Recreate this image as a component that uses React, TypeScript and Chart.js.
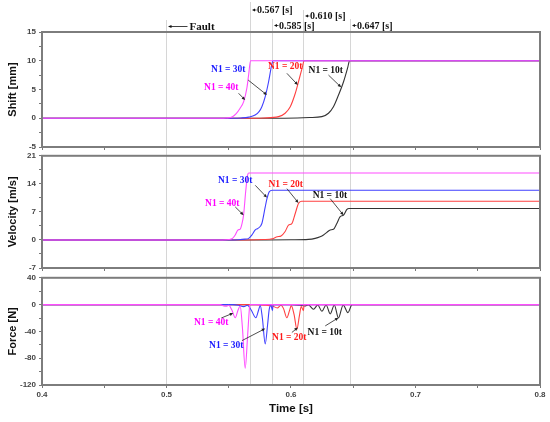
import { useEffect, useRef } from "react";
import { Chart, registerables } from "chart.js";

Chart.register(...registerables);

type Pt = [number, number];

// time window and the marked instants [s]
const tMin = 0.4;
const tMax = 0.8;
const eventTimes = [0.5, 0.567, 0.585, 0.61, 0.647];

const seriesNames = ["N1 = 40t", "N1 = 30t", "N1 = 20t", "N1 = 10t"];
const seriesColors = ["#ff4dff", "#4040ff", "#ff4040", "#333333"];
const labelColors = ["#ff00ff", "#1a1aff", "#ff1a1a", "#111111"];

// Shift [mm]
const shift40: Pt[] = [[0.4, 0], [0.542, 0], [0.548, 0.05], [0.553, 0.25], [0.556, 0.8], [0.559, 1.7], [0.562, 2.9], [0.5646, 5.3], [0.566, 7.6], [0.5675, 10], [0.8, 10]];
const shift30: Pt[] = [[0.4, 0], [0.552, 0], [0.56, 0.05], [0.566, 0.2], [0.5712, 0.57], [0.5745, 1.2], [0.5766, 2.0], [0.5793, 3.75], [0.582, 6.35], [0.5847, 9.5], [0.5855, 10], [0.8, 10]];
const shift20: Pt[] = [[0.4, 0], [0.565, 0], [0.578, 0.05], [0.59, 0.28], [0.5953, 0.87], [0.5994, 2.0], [0.6034, 4.3], [0.606, 6.35], [0.6092, 8.95], [0.6105, 10], [0.8, 10]];
const shift10: Pt[] = [[0.4, 0], [0.585, 0], [0.605, 0.05], [0.615, 0.12], [0.6248, 0.28], [0.6301, 0.87], [0.6341, 2.0], [0.6381, 4.0], [0.6422, 6.35], [0.6457, 8.95], [0.647, 10], [0.8, 10]];

// Velocity [m/s]
const vel40: Pt[] = [[0.4, 0], [0.545, 0], [0.55, 0.1], [0.553, 0.4], [0.5552, 1.24], [0.5574, 2.5], [0.5592, 2.7], [0.5606, 4.0], [0.5619, 6.2], [0.5637, 12.4], [0.5651, 16.1], [0.566, 16.7], [0.8, 16.7]];
const vel30: Pt[] = [[0.4, 0], [0.55, 0], [0.558, 0.05], [0.563, 0.2], [0.566, 0.4], [0.5685, 1.2], [0.5713, 2.5], [0.5735, 2.9], [0.5766, 4.1], [0.5793, 8.25], [0.5807, 10.3], [0.5825, 12.0], [0.585, 12.4], [0.8, 12.4]];
const vel20: Pt[] = [[0.4, 0], [0.565, 0], [0.578, 0.1], [0.585, 0.3], [0.589, 0.8], [0.592, 1.0], [0.5953, 2.1], [0.598, 3.7], [0.6007, 4.1], [0.6034, 6.6], [0.606, 9.1], [0.6085, 9.66], [0.8, 9.66]];
const vel10: Pt[] = [[0.4, 0], [0.58, 0], [0.6, 0.05], [0.614, 0.15], [0.6194, 0.4], [0.6234, 0.8], [0.6261, 1.24], [0.6288, 1.9], [0.6315, 2.5], [0.6341, 2.65], [0.6368, 4.1], [0.6395, 5.8], [0.6422, 6.2], [0.6449, 7.6], [0.6465, 7.85], [0.8, 7.85]];

// Force [N]
const force40: Pt[] = [[0.4, 0], [0.543, 0], [0.546, -2], [0.548, -2.5], [0.55, -1], [0.5525, -8], [0.5552, -19.6], [0.5575, -8], [0.5592, -2], [0.561, -35], [0.5632, -95], [0.5652, -45], [0.5665, -8], [0.567, 0], [0.8, 0]];
const force30: Pt[] = [[0.4, 0], [0.553, 0], [0.558, -1], [0.562, -3], [0.565, -1], [0.568, -8], [0.5718, -19.6], [0.574, -8], [0.5753, -1.5], [0.577, -20], [0.5793, -58.6], [0.5812, -30], [0.5825, -7], [0.5839, -1], [0.5851, -9], [0.5856, 0], [0.8, 0]];
const force20: Pt[] = [[0.4, 0], [0.572, 0], [0.58, -1], [0.585, -2], [0.589, -5], [0.592, -1], [0.594, -6], [0.5967, -19.6], [0.5988, -9], [0.6002, -1.5], [0.6025, -15], [0.6047, -36.6], [0.6068, -16], [0.6082, -3], [0.61, -9], [0.6105, 0], [0.8, 0]];
const force10: Pt[] = [[0.4, 0], [0.6, 0], [0.607, -1], [0.611, -2], [0.614, -0.5], [0.6181, -7], [0.6215, -0.5], [0.6248, -10], [0.6282, -0.5], [0.6315, -14], [0.6348, -0.5], [0.6381, -20], [0.6419, -0.5], [0.6457, -12], [0.6485, -1], [0.649, 0], [0.8, 0]];

// label anchors in data units, order 40t, 30t, 20t, 10t
const shiftLabelAt: Pt[] = [[0.544, 5.26], [0.5496, 8.55], [0.5953, 9.07], [0.6279, 8.38]];
const shiftArrowFrom: Pt[] = [[0.5579, 4.34], [0.5656, 6.64], [0.5967, 7.81], [0.6301, 7.51]];
const shiftArrowTo: Pt[] = [[0.5632, 3.17], [0.5807, 4.04], [0.6055, 5.78], [0.6403, 5.38]];
const velLabelAt: Pt[] = [[0.5448, 9.17], [0.5552, 14.87], [0.5957, 13.87], [0.6312, 11.15]];
const velArrowFrom: Pt[] = [[0.5552, 8.25], [0.5713, 13.63], [0.5967, 12.8], [0.6315, 10.3]];
const velArrowTo: Pt[] = [[0.5619, 6.19], [0.5807, 10.58], [0.606, 9.24], [0.6422, 6.19]];
const forceLabelAt: Pt[] = [[0.5359, -27.4], [0.548, -61], [0.5986, -49], [0.6271, -41.6]];
const forceArrowFrom: Pt[] = [[0.544, -20], [0.5606, -53.8], [0.6007, -41.6], [0.6275, -31.8]];
const forceArrowTo: Pt[] = [[0.5536, -12.7], [0.5793, -35.8], [0.6055, -34.3], [0.6381, -19.6]];

const panels = [
  { title: "Shift [mm]", min: -5, max: 15, step: 2.5, major: 5, series: [shift40, shift30, shift20, shift10],
    labelAt: shiftLabelAt, from: shiftArrowFrom, to: shiftArrowTo, top: 0, height: 160, padTop: 32, padBottom: 9, xHeight: 4 },
  { title: "Velocity [m/s]", min: -7, max: 21, step: 3.5, major: 7, series: [vel40, vel30, vel20, vel10],
    labelAt: velLabelAt, from: velArrowFrom, to: velArrowTo, top: 148, height: 132, padTop: 7, padBottom: 8, xHeight: 4 },
  { title: "Force [N]", min: -120, max: 40, step: 20, major: 40, series: [force40, force30, force20, force10],
    labelAt: forceLabelAt, from: forceArrowFrom, to: forceArrowTo, top: 270, height: 152, padTop: 6, padBottom: 0, xHeight: 37 },
];

// where each event line starts in the top panel, and the row of its tag
const lineStartY = [20, 2, 19, 10, 19];
const tagRowY = [26.5, 10, 25.5, 16, 25.5];

const serif = "'Liberation Serif', 'Times New Roman', serif";
const sans = "'Liberation Sans', Arial, sans-serif";

function arrow(ctx: CanvasRenderingContext2D, x1: number, y1: number, x2: number, y2: number, head = 4) {
  const a = Math.atan2(y2 - y1, x2 - x1);
  ctx.beginPath();
  ctx.moveTo(x1, y1);
  ctx.lineTo(x2 - Math.cos(a) * head * 0.8, y2 - Math.sin(a) * head * 0.8);
  ctx.stroke();
  ctx.beginPath();
  ctx.moveTo(x2, y2);
  ctx.lineTo(x2 - head * Math.cos(a) + 1.6 * Math.sin(a), y2 - head * Math.sin(a) - 1.6 * Math.cos(a));
  ctx.lineTo(x2 - head * Math.cos(a) - 1.6 * Math.sin(a), y2 - head * Math.sin(a) + 1.6 * Math.cos(a));
  ctx.closePath();
  ctx.fill();
}

function decoPlugin(p: any, idx: number) {
  return {
    id: "deco" + idx,
    beforeDatasetsDraw(chart: any) {
      const { ctx, chartArea } = chart;
      const x = chart.scales.x;
      ctx.save();
      ctx.strokeStyle = "#d6d6d6";
      ctx.lineWidth = 1;
      eventTimes.forEach((t, k) => {
        const px = Math.round(x.getPixelForValue(t)) + 0.5;
        const y0 = idx === 0 ? lineStartY[k] : 0;
        const y1 = idx === 2 ? chartArea.bottom : chart.height;
        ctx.beginPath();
        ctx.moveTo(px, y0);
        ctx.lineTo(px, y1);
        ctx.stroke();
      });
      ctx.restore();
    },
    afterDraw(chart: any) {
      const { ctx, chartArea } = chart;
      const x = chart.scales.x;
      const y = chart.scales.y;
      ctx.save();
      // frame
      ctx.strokeStyle = "#7d7d7d";
      ctx.lineWidth = 2;
      ctx.strokeRect(chartArea.left, chartArea.top, chartArea.right - chartArea.left, chartArea.bottom - chartArea.top);

      // series labels with arrows
      ctx.strokeStyle = "#222";
      ctx.fillStyle = "#222";
      ctx.lineWidth = 0.8;
      p.from.forEach((f: Pt, s: number) => {
        const tt = p.to[s];
        arrow(ctx, x.getPixelForValue(f[0]), y.getPixelForValue(f[1]), x.getPixelForValue(tt[0]), y.getPixelForValue(tt[1]), 3.5);
      });
      ctx.font = `bold 9.5px ${serif}`;
      ctx.textAlign = "center";
      ctx.textBaseline = "middle";
      p.labelAt.forEach((l: Pt, s: number) => {
        ctx.fillStyle = labelColors[s];
        ctx.fillText(seriesNames[s], x.getPixelForValue(l[0]), y.getPixelForValue(l[1]));
      });

      // time tags above the top panel
      if (idx === 0) {
        ctx.fillStyle = "#111";
        ctx.strokeStyle = "#111";
        ctx.textAlign = "left";
        eventTimes.forEach((t, k) => {
          const px = Math.round(x.getPixelForValue(t)) + 0.5;
          const ty = tagRowY[k];
          if (k === 0) {
            arrow(ctx, px + 21, ty, px + 1.5, ty, 3.5);
            ctx.font = `bold 11px ${serif}`;
            ctx.fillText("Fault", px + 23, ty + 0.5);
          } else {
            arrow(ctx, px + 6, ty, px + 1.5, ty, 3);
            ctx.font = `bold 10px ${serif}`;
            ctx.fillText(`${t.toFixed(3)} [s]`, px + 6.5, ty + 0.5);
          }
        });
      }
      ctx.restore();
    },
  };
}

function buildConfig(p: any, idx: number): any {
  const bottom = idx === 2;
  return {
    type: "line",
    data: {
      datasets: seriesNames.map((name, s) => ({
        label: name,
        data: p.series[s].map(([tx, v]: Pt) => ({ x: tx, y: v })),
        borderColor: seriesColors[s],
        borderWidth: 1.1,
        pointRadius: 0,
        fill: false,
        cubicInterpolationMode: "monotone",
      })),
    },
    options: {
      animation: false,
      responsive: false,
      maintainAspectRatio: false,
      layout: { padding: { top: p.padTop, bottom: p.padBottom, left: 0, right: 10 } },
      plugins: { legend: { display: false }, tooltip: { enabled: false } },
      scales: {
        x: {
          type: "linear",
          min: tMin,
          max: tMax,
          ticks: {
            display: bottom,
            stepSize: 0.05,
            autoSkip: false,
            maxRotation: 0,
            padding: 2,
            color: "#444",
            font: { size: 8, weight: "bold", family: sans },
            callback: (v: number) =>
              Math.abs(v * 10 - Math.round(v * 10)) < 1e-6 ? (Math.round(v * 10) / 10).toFixed(1) : "",
          },
          grid: { display: true, drawOnChartArea: false, drawTicks: true, tickLength: 3, tickColor: "#777" },
          border: { display: false },
          title: {
            display: bottom,
            text: "Time [s]",
            color: "#111",
            font: { size: 11.5, weight: "bold", family: sans },
            padding: { top: 0, bottom: 6 },
          },
          afterFit: (s: any) => { s.height = p.xHeight; },
        },
        y: {
          type: "linear",
          min: p.min,
          max: p.max,
          ticks: {
            stepSize: p.step,
            autoSkip: false,
            padding: 3,
            color: "#444",
            font: { size: 8, weight: "bold", family: sans },
            callback: (v: number) =>
              Math.abs(v / p.major - Math.round(v / p.major)) < 1e-6 ? String(Math.round(v)) : "",
          },
          grid: { display: true, drawOnChartArea: false, drawTicks: true, tickLength: 3, tickColor: "#777" },
          border: { display: false },
          title: {
            display: true,
            text: p.title,
            color: "#111",
            font: { size: 11, weight: "bold", family: sans },
            padding: { top: 6.5, bottom: 0 },
          },
          afterFit: (s: any) => { s.width = 42; },
        },
      },
    },
    plugins: [decoPlugin(p, idx)],
  };
}

export default function App() {
  const r0 = useRef<HTMLCanvasElement>(null);
  const r1 = useRef<HTMLCanvasElement>(null);
  const r2 = useRef<HTMLCanvasElement>(null);
  const refs = [r0, r1, r2];

  useEffect(() => {
    document.body.style.margin = "0";
    const charts: Chart[] = [];
    panels.forEach((p, i) => {
      const el = refs[i].current;
      if (el) charts.push(new Chart(el, buildConfig(p, i)));
    });
    return () => charts.forEach((c) => c.destroy());
  }, []);

  return (
    <div style={{ position: "relative", width: 550, height: 422, background: "#fff" }}>
      {panels.map((p, i) => (
        <canvas
          key={i}
          ref={refs[i]}
          width={550}
          height={p.height}
          style={{ position: "absolute", left: 0, top: p.top, width: 550, height: p.height }}
        />
      ))}
    </div>
  );
}
